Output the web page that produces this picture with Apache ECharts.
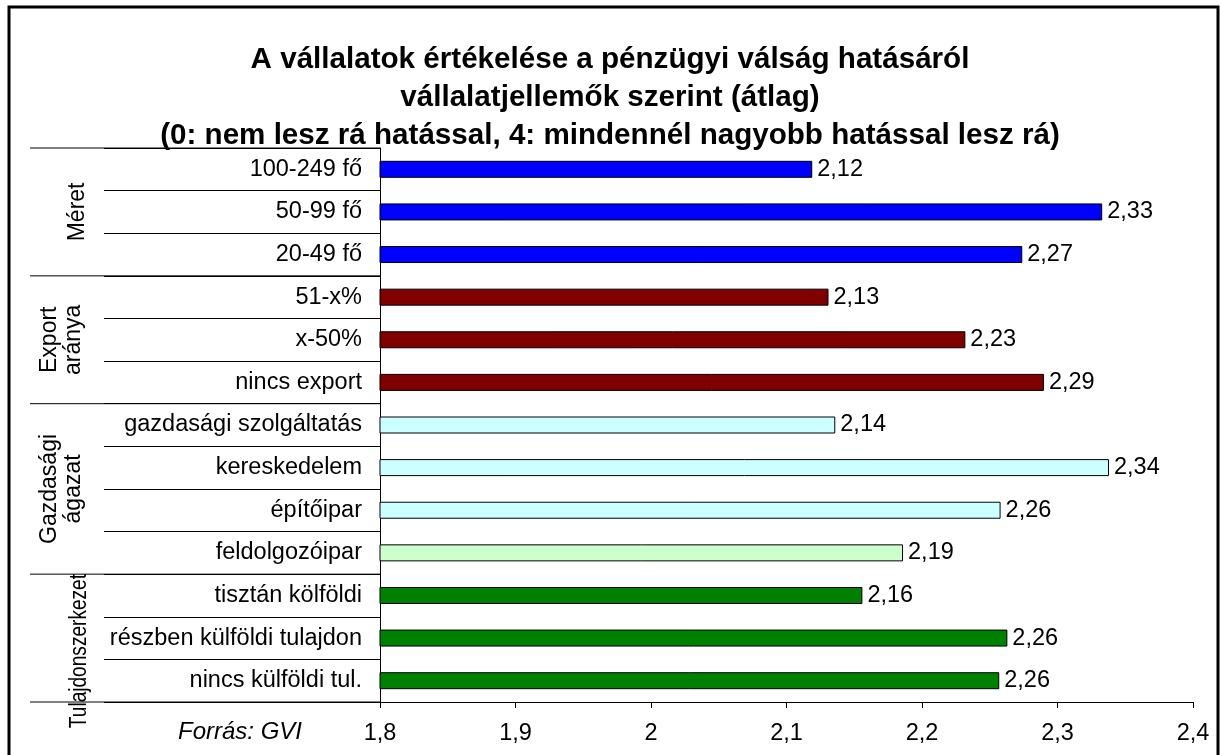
<!DOCTYPE html>
<html>
<head>
<meta charset="utf-8">
<script src="https://cdn.jsdelivr.net/npm/echarts@6/dist/echarts.min.js"></script>
<style>
html,body{margin:0;padding:0;background:#fff;}
#c{width:1220px;height:755px;}
</style>
</head>
<body>
<div id="c"></div>
<script>
const titleText = 'A vállalatok értékelése a pénzügyi válság hatásáról\nvállalatjellemők szerint (átlag)\n(0: nem lesz rá hatással, 4: mindennél nagyobb hatással lesz rá)';
const categories = ['100-249 fő','50-99 fő','20-49 fő','51-x%','x-50%','nincs export','gazdasági szolgáltatás','kereskedelem','építőipar','feldolgozóipar','tisztán kölföldi','részben külföldi tulajdon','nincs külföldi tul.'];
const values = [2.119, 2.333, 2.274, 2.131, 2.232, 2.290, 2.136, 2.338, 2.258, 2.186, 2.156, 2.263, 2.257];
const barColors = ['#0000ff','#0000ff','#0000ff','#800000','#800000','#800000','#ccffff','#ccffff','#ccffff','#ccffcc','#008000','#008000','#008000'];
const groupNames = ['Méret','Export\naránya','Gazdasági\nágazat','Tulajdonszerkezet'];
const groupSizes = [3, 3, 4, 3];
const axisMin = 1.8, axisMax = 2.4, axisStep = 0.1;
const sourceText = 'Forrás: GVI';

const FONT = '"Liberation Sans", Arial, sans-serif';
const fmt2 = v => v.toFixed(2).replace('.', ',');
const fmtTick = v => String(Math.round(v * 10) / 10).replace('.', ',');

const chart = echarts.init(document.getElementById('c'), null, {renderer: 'canvas'});
chart.setOption({
  animation: false,
  backgroundColor: '#fff',
  textStyle: {fontFamily: FONT},
  title: {
    text: titleText,
    left: 'center',
    top: 36,
    textStyle: {fontFamily: FONT, fontSize: 29.6, fontWeight: 'bold', color: '#000', lineHeight: 38}
  },
  grid: {left: 380, right: 27, top: 148, bottom: 53, containLabel: false},
  xAxis: {
    type: 'value',
    min: axisMin, max: axisMax, interval: axisStep,
    axisLine: {show: true, lineStyle: {color: '#000', width: 1}},
    axisTick: {show: true, length: 6, lineStyle: {color: '#000'}},
    splitLine: {show: false},
    axisLabel: {formatter: fmtTick, fontSize: 23.5, color: '#000', margin: 20, fontFamily: FONT}
  },
  yAxis: {
    type: 'category',
    data: categories,
    inverse: true,
    axisLine: {show: true, lineStyle: {color: '#000', width: 1}},
    axisTick: {show: true, length: 276, lineStyle: {color: '#000', width: 1}},
    axisLabel: {fontSize: 23.5, color: '#000', margin: 18, fontFamily: FONT}
  },
  series: [{
    type: 'bar',
    barWidth: 17,
    data: values.map((v, i) => ({value: v, itemStyle: {color: barColors[i]}})),
    itemStyle: {borderColor: '#000', borderWidth: 1},
    label: {show: true, position: 'right', distance: 5, fontSize: 23.5, color: '#000', fontFamily: FONT, formatter: p => fmt2(p.value)}
  }]
});

// Group separators and labels, positioned through the category scale
const y0 = chart.convertToPixel({yAxisIndex: 0}, 0);
const y1 = chart.convertToPixel({yAxisIndex: 0}, 1);
const band = y1 - y0;
const boundary = i => y0 + (i - 0.5) * band;
const axisX = chart.convertToPixel({xAxisIndex: 0}, axisMin);
const bottomY = boundary(categories.length);

const graphics = [];
graphics.push({type: 'rect', shape: {x: 9, y: 7, width: 1209, height: 760}, style: {fill: 'none', stroke: '#000', lineWidth: 3}, silent: true});
let start = 0;
const groupX = [78, 62, 62, 80];
const groupDy = [0, 0, 0, 13];
const groupScale = [1, 1, 1, 0.83];
groupSizes.forEach((n, g) => {
  graphics.push({type: 'line', shape: {x1: 30, y1: boundary(start), x2: axisX, y2: boundary(start)}, style: {stroke: '#000', lineWidth: 1}});
  const cy = (boundary(start) + boundary(start + n)) / 2 + groupDy[g];
  graphics.push({
    type: 'text', x: groupX[g], y: cy, rotation: Math.PI / 2, scaleX: groupScale[g],
    style: {text: groupNames[g], font: '23px ' + FONT, fill: '#000', align: 'center', verticalAlign: 'middle', lineHeight: 24}
  });
  start += n;
});
graphics.push({type: 'line', shape: {x1: 30, y1: bottomY, x2: axisX, y2: bottomY}, style: {stroke: '#000', lineWidth: 1}});
graphics.push({
  type: 'text', x: 240, y: bottomY + 30,
  style: {text: sourceText, font: 'italic 24px ' + FONT, fill: '#000', align: 'center', verticalAlign: 'middle'}
});
chart.setOption({graphic: graphics});
</script>
</body>
</html>
